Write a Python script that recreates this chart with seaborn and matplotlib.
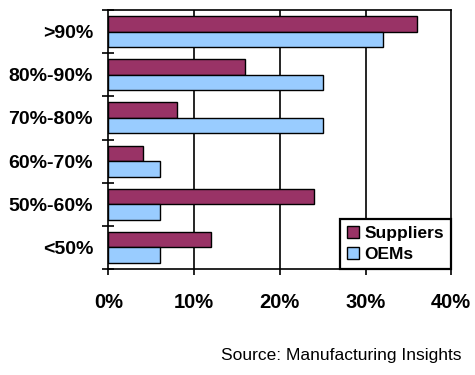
import matplotlib
matplotlib.use("Agg")
import matplotlib.pyplot as plt
import matplotlib.ticker as mticker
import seaborn as sns
import pandas as pd
import numpy as np

# Share of ... by band
BANDS = [">90%", "80%-90%", "70%-80%", "60%-70%", "50%-60%", "<50%"]
SUPPLIERS = [36, 16, 8, 4, 24, 12]
OEMS = [32, 25, 25, 6, 6, 6]
SERIES = ["Suppliers", "OEMs"]
X_TICKS = [0, 10, 20, 30, 40]
SOURCE = "Source: Manufacturing Insights"

COLORS = ["#993366", "#99CCFF"]

sns.set_theme(style="white")
plt.rcParams["font.family"] = ["Liberation Sans", "DejaVu Sans"]
plt.rcParams["text.color"] = "black"
plt.rcParams["xtick.color"] = "black"
plt.rcParams["ytick.color"] = "black"
plt.rcParams["axes.labelcolor"] = "black"

df = pd.DataFrame({
    "band": BANDS * 2,
    "series": [SERIES[0]] * len(BANDS) + [SERIES[1]] * len(BANDS),
    "value": SUPPLIERS + OEMS,
})

fig = plt.figure(figsize=(4.75, 3.75), dpi=100)
ax = fig.add_axes([0.228, 0.283, 0.722, 0.690])

sns.barplot(data=df, x="value", y="band", hue="series", order=BANDS,
            hue_order=SERIES, palette=COLORS, saturation=1, width=0.72,
            edgecolor="black", linewidth=1, orient="h", ax=ax)

ax.set_xlim(0, 40)
ax.set_ylim(5.5, -0.5)
ax.set_xlabel("")
ax.set_ylabel("")

# vertical gridlines and frame
ax.set_xticks(X_TICKS)
ax.xaxis.set_major_formatter(mticker.FuncFormatter(lambda v, _: f"{v:.0f}%"))
for v in X_TICKS[1:-1]:
    ax.axvline(v, color="black", linewidth=1.2, zorder=0)
for side in ["left", "right", "top", "bottom"]:
    ax.spines[side].set_visible(True)
    ax.spines[side].set_color("black")
    ax.spines[side].set_linewidth(1.2)

ax.tick_params(axis="x", which="major", bottom=True, direction="out",
               length=4.5, width=1.2, color="black", pad=13,
               labelsize=14.5, labelcolor="black")
ax.tick_params(axis="y", which="major", left=False, length=0, pad=11,
               labelsize=14, labelcolor="black")
ax.set_yticks(np.arange(-0.5, 6.0, 1.0), minor=True)
ax.tick_params(axis="y", which="minor", left=True, direction="inout",
               length=8, width=1.2, color="black")
for lab in ax.get_xticklabels() + ax.get_yticklabels():
    lab.set_fontweight("bold")

leg = ax.legend(loc="lower right", bbox_to_anchor=(1.0, 0.0),
                borderaxespad=0, fancybox=False, framealpha=1,
                edgecolor="black", prop={"weight": "bold", "size": 12.5},
                handlelength=0.7, handleheight=0.7, handletextpad=0.3,
                labelspacing=0.35, borderpad=0.4)
leg.get_frame().set_linewidth(1.6)
for t in leg.get_texts():
    t.set_color("black")
for h in leg.legend_handles:
    h.set_edgecolor("black")
    h.set_linewidth(1)

fig.text(0.9726, 0.0533, SOURCE, ha="right", va="center", fontsize=12.5,
         color="black")

fig.savefig("out.png", dpi=100)
plt.close(fig)
